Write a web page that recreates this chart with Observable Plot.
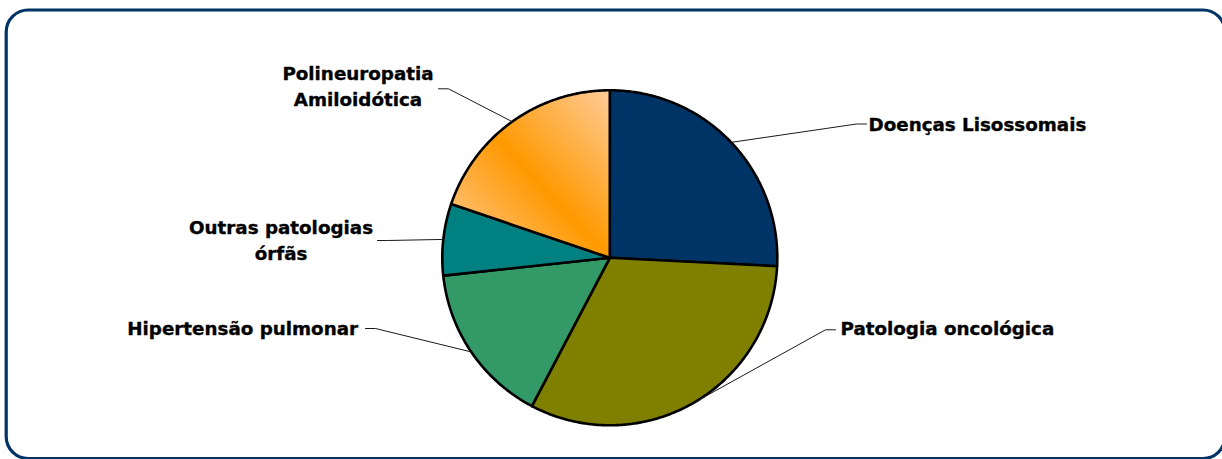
<!DOCTYPE html>
<html>
<head>
<meta charset="utf-8">
<script src="https://cdn.jsdelivr.net/npm/d3@7"></script>
<script src="https://cdn.jsdelivr.net/npm/@observablehq/plot@0.6"></script>
<style>
  html, body { margin: 0; padding: 0; background: #ffffff; }
  #chart { width: 1222px; height: 459px; overflow: hidden; }
</style>
</head>
<body>
<div id="chart"></div>
<script>
// ---- data ----
const categories = ["Doenças Lisossomais", "Patologia oncológica", "Hipertensão pulmonar", "Outras patologias órfãs", "Polineuropatia Amiloidótica"];
const values = [25.8, 31.9, 15.6, 6.9, 19.8];
const labelTexts = ["Doenças Lisossomais", "Patologia oncológica", "Hipertensão pulmonar", "Outras patologias\nórfãs", "Polineuropatia\nAmiloidótica"];
const colors = ["#003366", "#808000", "#339966", "#008080", "url(#polyGrad)"];

// ---- layout (chart units = px, origin at pie centre, y downward) ----
const W = 1222, H = 459;
const CX = 609.3, CY = 257.3, R = 167.5;
const labelX = [258.7, 230.7, -251.8, -328.8, -251.8];
const labelY = [-135.0, 68.7, 68.7, -18.9, -172.9];
const labelAnchor = ["start", "start", "end", "middle", "middle"];
const leaderEndX = [256.7, 225.7, -244.3, -232.3, -171.3];
const leaderY = [-133.8, 72.0, 70.7, -17.3, -169.0];

// ---- derived geometry ----
const total = d3.sum(values);
let acc = 0;
const slices = values.map((v, i) => {
  const a0 = acc / total * 2 * Math.PI;
  acc += v;
  const a1 = acc / total * 2 * Math.PI;
  return {category: categories[i], a0, a1, mid: (a0 + a1) / 2};
});

const slicePts = [];
for (const s of slices) {
  slicePts.push({category: s.category, x: 0, y: 0});
  const n = Math.max(2, Math.ceil((s.a1 - s.a0) / (Math.PI / 360)));
  for (let k = 0; k <= n; ++k) {
    const a = s.a0 + (s.a1 - s.a0) * k / n;
    slicePts.push({category: s.category, x: R * Math.sin(a), y: -R * Math.cos(a)});
  }
}

const leaderPts = [];
slices.forEach((s, i) => {
  const side = labelAnchor[i] === "start" ? -1 : 1;
  leaderPts.push({category: s.category, x: R * Math.sin(s.mid), y: -R * Math.cos(s.mid)});
  leaderPts.push({category: s.category, x: leaderEndX[i] + side * 10, y: leaderY[i]});
  leaderPts.push({category: s.category, x: leaderEndX[i], y: leaderY[i]});
});

const labels = categories.map((c, i) => ({category: c, text: labelTexts[i], x: labelX[i], y: labelY[i], anchor: labelAnchor[i]}));

const textOpts = {x: "x", y: "y", text: "text", fill: "#000000", stroke: "#000000", strokeWidth: 0.35, fontSize: 18.3, fontWeight: "bold", fontFamily: "DejaVu Sans", lineHeight: 1.44, lineAnchor: "middle"};

const chart = Plot.plot({
  width: W,
  height: H,
  margin: 0,
  style: {fontFamily: "DejaVu Sans", background: "#ffffff"},
  x: {domain: [-CX, W - CX], range: [0, W], axis: null},
  y: {domain: [-CY, H - CY], range: [0, H], axis: null},
  color: {domain: categories, range: colors},
  marks: [
    Plot.line(slicePts, {x: "x", y: "y", z: "category", fill: "category", stroke: "#000000", strokeWidth: 2.6, strokeLinejoin: "round", curve: "linear-closed"}),
    Plot.line(leaderPts, {x: "x", y: "y", z: "category", stroke: "#1a1a1a", strokeWidth: 1}),
    Plot.text(labels.filter(d => d.anchor === "start"), {...textOpts, textAnchor: "start"}),
    Plot.text(labels.filter(d => d.anchor === "end"), {...textOpts, textAnchor: "end"}),
    Plot.text(labels.filter(d => d.anchor === "middle"), {...textOpts, textAnchor: "middle"}),
    Plot.frame({stroke: "#003366", strokeWidth: 3.2, rx: 22, insetLeft: 5.7, insetTop: 9.5, insetRight: -2.5, insetBottom: 1})
  ]
});

// gradient used by the Polineuropatia slice
const ns = "http://www.w3.org/2000/svg";
const defs = document.createElementNS(ns, "defs");
const grad = document.createElementNS(ns, "linearGradient");
grad.setAttribute("id", "polyGrad");
grad.setAttribute("x1", "1"); grad.setAttribute("y1", "0");
grad.setAttribute("x2", "0"); grad.setAttribute("y2", "1");
[["0", "#FFCC99"], ["0.5", "#FF9900"], ["1", "#FFCC99"]].forEach(([o, c]) => {
  const st = document.createElementNS(ns, "stop");
  st.setAttribute("offset", o);
  st.setAttribute("stop-color", c);
  grad.appendChild(st);
});
defs.appendChild(grad);
chart.insertBefore(defs, chart.firstChild);

document.getElementById("chart").appendChild(chart);
</script>
</body>
</html>
